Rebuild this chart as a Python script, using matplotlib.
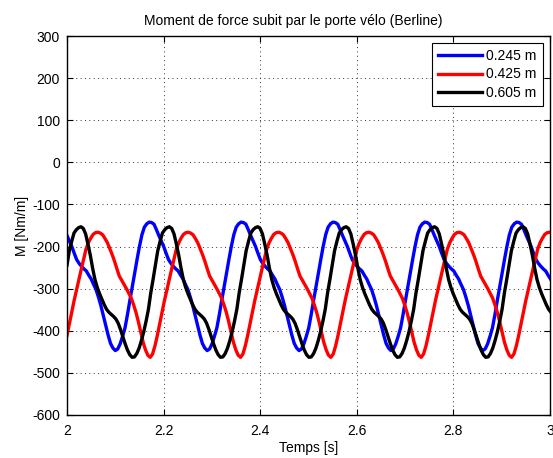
import numpy as np
import matplotlib
matplotlib.use("Agg")
import matplotlib.pyplot as plt

plt.rcParams['font.family'] = ['Liberation Sans', 'DejaVu Sans']

# sample start and step (s) of each series
t_start = 2.0
dt_blue = 0.005005
dt_red = 0.004922
dt_black = 0.004817

labels = ['0.245 m', '0.425 m', '0.605 m']

m_blue = [
    -174, -187, -200, -216, -231, -240, -247, -253, -258, -268, -277, -290, -302, -320, -340, -363, -386, -410, -430,
    -441, -447, -443, -431, -413, -393, -362, -328, -296, -263, -230, -199, -172, -154, -146, -142, -143, -147, -160,
    -174, -187, -200, -216, -231, -240, -247, -253, -258, -268, -277, -290, -302, -320, -340, -363, -386, -410, -430,
    -441, -447, -443, -431, -413, -393, -362, -328, -296, -263, -230, -199, -172, -154, -146, -142, -143, -147, -160,
    -174, -187, -200, -216, -231, -240, -247, -253, -258, -268, -277, -290, -302, -320, -340, -363, -386, -410, -430,
    -441, -447, -443, -431, -413, -393, -362, -328, -296, -263, -230, -199, -172, -154, -146, -142, -143, -147, -160,
    -174, -187, -200, -216, -231, -240, -247, -253, -258, -268, -277, -290, -302, -320, -340, -363, -386, -410, -430,
    -441, -447, -443, -431, -413, -393, -362, -328, -296, -263, -230, -199, -172, -154, -146, -142, -143, -147, -160,
    -174, -187, -200, -216, -231, -240, -247, -253, -258, -268, -277, -290, -302, -320, -340, -363, -386, -410, -430,
    -441, -447, -443, -431, -413, -393, -362, -328, -296, -263, -230, -199, -172, -154, -146, -142, -143, -147, -160,
    -174, -187, -200, -216, -231, -240, -247, -253, -258, -268, -277,
]

m_red = [
    -411, -383, -354, -328, -303, -278, -254, -230, -206, -191, -180, -171, -167, -166, -168, -172, -181, -191, -205,
    -219, -235, -253, -270, -280, -290, -300, -311, -322, -338, -356, -378, -402, -427, -445, -458, -463, -455, -436,
    -411, -383, -354, -328, -303, -278, -254, -230, -206, -191, -180, -171, -167, -166, -168, -172, -181, -191, -205,
    -219, -235, -253, -270, -280, -290, -300, -311, -322, -338, -356, -378, -402, -427, -445, -458, -463, -455, -436,
    -411, -383, -354, -328, -303, -278, -254, -230, -206, -191, -180, -171, -167, -166, -168, -172, -181, -191, -205,
    -219, -235, -253, -270, -280, -290, -300, -311, -322, -338, -356, -378, -402, -427, -445, -458, -463, -455, -436,
    -411, -383, -354, -328, -303, -278, -254, -230, -206, -191, -180, -171, -167, -166, -168, -172, -181, -191, -205,
    -219, -235, -253, -270, -280, -290, -300, -311, -322, -338, -356, -378, -402, -427, -445, -458, -463, -455, -436,
    -411, -383, -354, -328, -303, -278, -254, -230, -206, -191, -180, -171, -167, -166, -168, -172, -181, -191, -205,
    -219, -235, -253, -270, -280, -290, -300, -311, -322, -338, -356, -378, -402, -427, -445, -458, -463, -455, -436,
    -411, -383, -354, -328, -303, -278, -254, -230, -206, -191, -180, -171, -167, -166, -168,
]

m_black = [
    -244, -210, -188, -168, -160, -155, -153, -157, -170, -194, -220, -251, -278, -297, -312, -325, -338, -349, -356,
    -361, -366, -372, -382, -397, -414, -431, -446, -457, -463, -462, -454, -441, -423, -402, -377, -349, -310, -278,
    -244, -210, -188, -168, -160, -155, -153, -157, -170, -194, -220, -251, -278, -297, -312, -325, -338, -349, -356,
    -361, -366, -372, -382, -397, -414, -431, -446, -457, -463, -462, -454, -441, -423, -402, -377, -349, -310, -278,
    -244, -210, -188, -168, -160, -155, -153, -157, -170, -194, -220, -251, -278, -297, -312, -325, -338, -349, -356,
    -361, -366, -372, -382, -397, -414, -431, -446, -457, -463, -462, -454, -441, -423, -402, -377, -349, -310, -278,
    -244, -210, -188, -168, -160, -155, -153, -157, -170, -194, -220, -251, -278, -297, -312, -325, -338, -349, -356,
    -361, -366, -372, -382, -397, -414, -431, -446, -457, -463, -462, -454, -441, -423, -402, -377, -349, -310, -278,
    -244, -210, -188, -168, -160, -155, -153, -157, -170, -194, -220, -251, -278, -297, -312, -325, -338, -349, -356,
    -361, -366, -372, -382, -397, -414, -431, -446, -457, -463, -462, -454, -441, -423, -402, -377, -349, -310, -278,
    -244, -210, -188, -168, -160, -155, -153, -157, -170, -194, -220, -251, -278, -297, -312, -325, -338, -349, -356,
]

x_ticks = [2, 2.2, 2.4, 2.6, 2.8, 3]
x_ticklabels = ['2', '2.2', '2.4', '2.6', '2.8', '3']
y_ticks = [-600, -500, -400, -300, -200, -100, 0, 100, 200, 300]

fig = plt.figure(figsize=(5.53, 4.58), dpi=100)
ax = fig.add_axes([67/553, 1-415/458, (550-67)/553, (415-36)/458])

series = [(m_blue, dt_blue, (0, 0, 1)), (m_red, dt_red, (1, 0, 0)), (m_black, dt_black, (0, 0, 0))]
for (vals, dt, col), lab in zip(series, labels):
    t = t_start + dt*np.arange(len(vals))
    ax.plot(t, vals, color=col, lw=2.4, label=lab, solid_joinstyle='round')

ax.set_xlim(2, 3)
ax.set_ylim(-600, 300)
ax.set_xticks(x_ticks)
ax.set_xticklabels(x_ticklabels)
ax.set_yticks(y_ticks)
ax.set_yticklabels([str(v) for v in y_ticks])
ax.tick_params(direction='in', length=4, width=0.8, top=True, right=True, labelsize=10)
ax.tick_params(axis='x', pad=6.5)
ax.tick_params(axis='y', pad=5)
ax.grid(True, color='#333333', linestyle=(0, (1, 3.5)), linewidth=0.7)
for s in ax.spines.values():
    s.set_linewidth(1.0)

ax.set_title('Moment de force subit par le porte vélo (Berline)', fontsize=10, pad=8, x=0.468)
ax.set_xlabel('Temps [s]', fontsize=10, labelpad=2)
ax.set_ylabel('M [Nm/m]', fontsize=10, labelpad=2)

leg = ax.legend(loc='upper right', fontsize=10, fancybox=False, framealpha=1, edgecolor='black',
                handlelength=3.2, labelspacing=0.3, borderaxespad=0.5, handletextpad=0.3,
                borderpad=0.45)
leg.get_frame().set_linewidth(0.8)

fig.savefig('out.png', dpi=100)
